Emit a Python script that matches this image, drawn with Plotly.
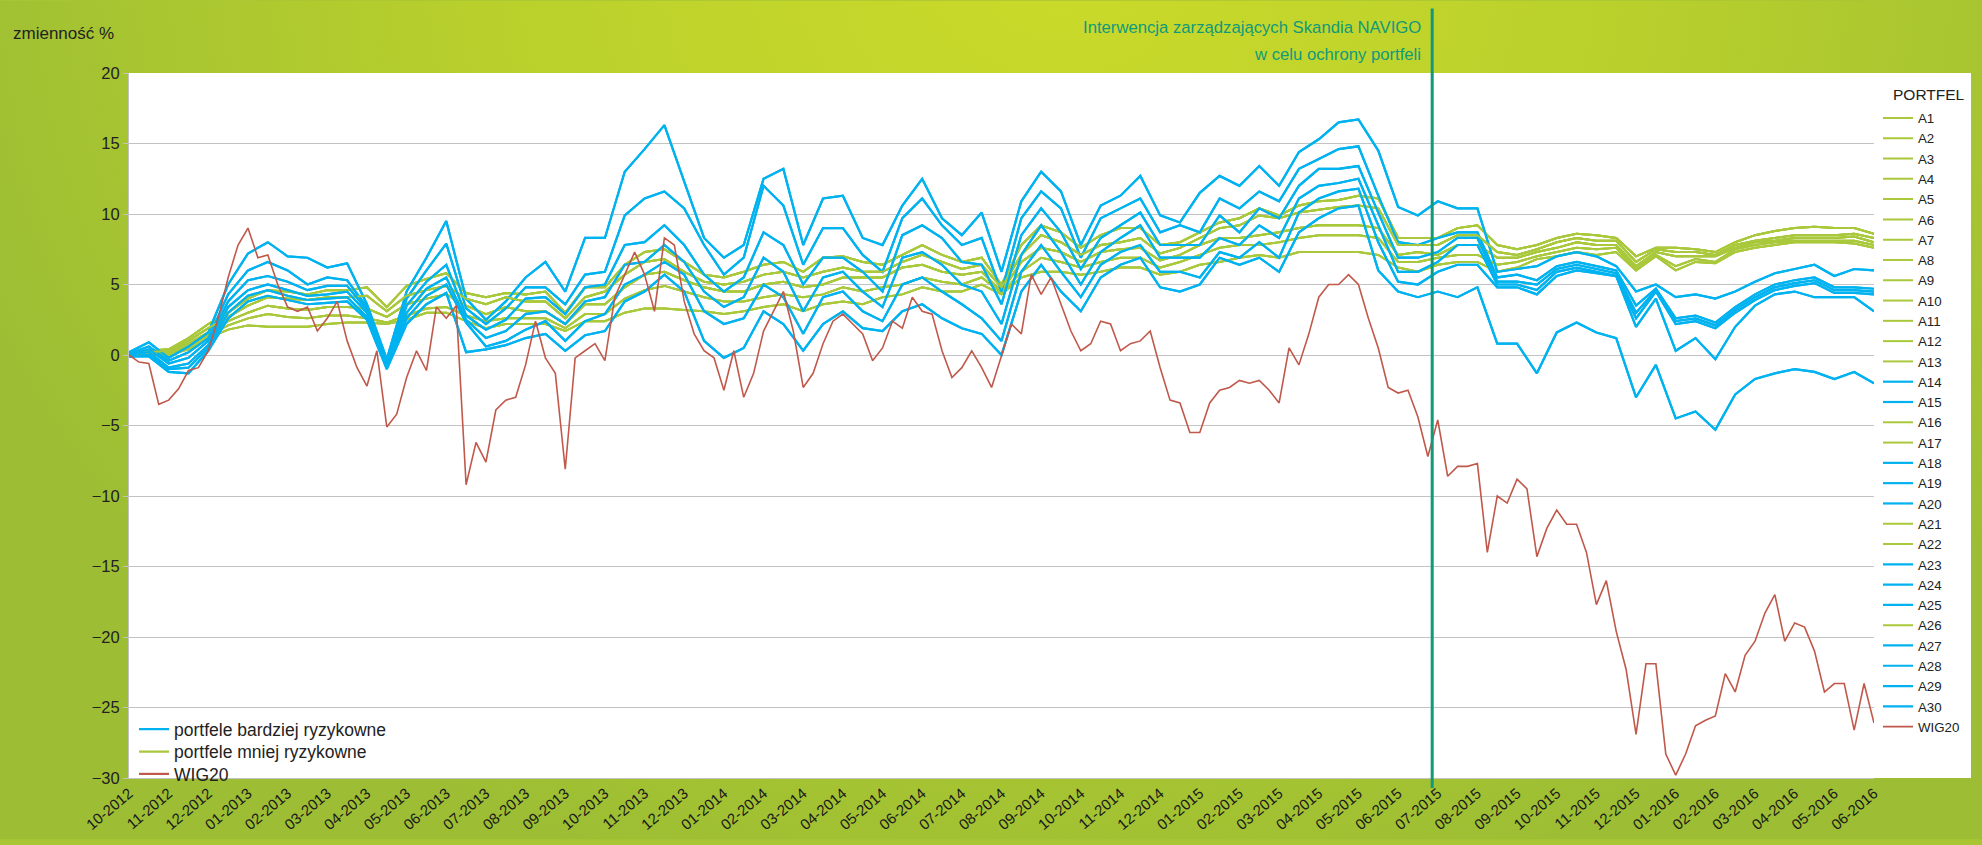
import base64
import numpy as np
import plotly.graph_objects as go

# ---------------- data ----------------
MONTH_LABELS = [
    "10-2012", "11-2012", "12-2012",
    "01-2013", "02-2013", "03-2013", "04-2013", "05-2013", "06-2013",
    "07-2013", "08-2013", "09-2013", "10-2013", "11-2013", "12-2013",
    "01-2014", "02-2014", "03-2014", "04-2014", "05-2014", "06-2014",
    "07-2014", "08-2014", "09-2014", "10-2014", "11-2014", "12-2014",
    "01-2015", "02-2015", "03-2015", "04-2015", "05-2015", "06-2015",
    "07-2015", "08-2015", "09-2015", "10-2015", "11-2015", "12-2015",
    "01-2016", "02-2016", "03-2016", "04-2016", "05-2016", "06-2016",
]

# sampling grids, in months since the start of 10-2012
X_HALF = np.arange(89) * 0.5      # portfolios: two samples per month
X_QUARTER = np.arange(177) * 0.25  # WIG20: four samples per month

# more risky portfolios (blue) - lines
BLUE_1 = [0.2, 0.9, -0.2, 0.6, 1.6, 5.0, 7.2, 8.0, 7.0, 6.9,
          6.2, 6.5, 3.6, -0.3, 4.5, 6.9, 9.5, 4.0, 2.5, 3.8,
          5.5, 6.6, 4.5, 8.3, 8.3, 13.0, 14.6, 16.3, 12.3, 8.3,
          6.9, 7.8, 12.5, 13.2, 7.8, 11.1, 11.3, 8.3, 7.8, 10.6,
          12.5, 9.7, 8.5, 10.1, 5.9, 10.9, 13.0, 11.6, 7.8, 10.6,
          11.3, 12.7, 9.9, 9.4, 11.5, 12.7, 12.0, 13.4, 12.0, 14.4,
          15.3, 16.5, 16.7, 14.5, 10.5, 9.9, 10.9, 10.4, 10.4, 5.9,
          6.1, 6.3, 7.0, 7.3, 7.0, 6.3, 4.5, 5.0, 4.1, 4.3,
          4.0, 4.5, 5.2, 5.8, 6.1, 6.4, 5.6, 6.1, 6.0]
BLUE_2 = [0.1, 0.6, -0.4, 0.2, 1.2, 4.3, 6.0, 6.6, 6.0, 5.0,
          5.5, 5.3, 3.4, -0.5, 4.0, 6.0, 7.9, 3.3, 2.2, 3.3,
          4.8, 4.8, 3.6, 5.7, 5.9, 9.9, 11.1, 11.6, 10.4, 7.8,
          5.7, 6.9, 12.0, 10.6, 6.4, 9.0, 9.0, 7.1, 5.9, 9.7,
          11.1, 9.2, 7.8, 8.3, 4.5, 9.7, 11.6, 10.4, 6.9, 9.7,
          10.4, 11.1, 8.7, 9.2, 8.7, 11.1, 10.4, 11.6, 10.9, 13.2,
          13.9, 14.6, 14.8, 11.3, 8.0, 7.8, 8.3, 8.7, 8.7, 5.5,
          5.7, 5.3, 6.3, 6.6, 6.3, 6.0, 3.5, 4.7, 2.6, 2.8,
          2.3, 3.4, 4.3, 5.0, 5.3, 5.5, 4.8, 4.8, 4.7]
BLUE_3 = [0.0, 0.4, -0.6, -0.2, 1.0, 3.8, 5.3, 5.6, 5.2, 4.6,
          4.9, 4.9, 3.2, -0.7, 3.5, 5.2, 6.4, 2.8, 1.8, 2.5,
          4.0, 4.1, 2.9, 4.8, 5.0, 7.8, 8.0, 9.2, 7.8, 5.7,
          4.5, 5.5, 8.7, 7.8, 5.0, 6.9, 6.9, 5.9, 4.5, 8.5,
          9.2, 8.3, 6.6, 6.4, 3.6, 8.5, 10.4, 8.7, 6.1, 8.3,
          9.2, 10.1, 7.8, 7.8, 7.8, 9.9, 8.7, 10.4, 9.7, 12.0,
          13.2, 13.2, 13.4, 10.1, 6.9, 6.9, 7.3, 8.3, 8.3, 5.2,
          5.2, 5.0, 6.1, 6.4, 6.1, 5.8, 3.0, 4.6, 2.4, 2.6,
          2.1, 3.2, 4.1, 4.8, 5.1, 5.3, 4.6, 4.6, 4.5]
BLUE_4 = [0.0, 0.2, -0.9, -0.6, 0.7, 3.4, 4.6, 5.0, 4.6, 4.2,
          4.3, 4.5, 3.0, -0.8, 3.0, 4.7, 5.5, 2.5, 1.2, 1.7,
          2.9, 3.1, 2.2, 3.8, 4.1, 6.4, 6.6, 7.8, 6.6, 4.5,
          3.4, 4.1, 6.9, 5.9, 3.1, 5.5, 5.9, 4.5, 3.4, 6.9,
          7.3, 6.4, 5.0, 4.5, 2.2, 7.1, 9.2, 7.3, 5.0, 7.3,
          8.3, 9.2, 6.9, 6.9, 6.9, 8.3, 7.8, 9.2, 8.3, 11.1,
          12.0, 12.2, 12.5, 9.2, 5.9, 5.9, 6.6, 7.8, 7.8, 5.0,
          5.0, 4.6, 5.9, 6.2, 5.9, 5.6, 2.6, 4.5, 2.2, 2.4,
          1.9, 3.0, 3.9, 4.6, 4.9, 5.1, 4.4, 4.4, 4.3]
BLUE_5 = [-0.1, 0.0, -1.0, -0.9, 0.5, 3.0, 4.2, 4.6, 4.2, 3.9,
          4.0, 4.1, 2.7, -0.9, 2.6, 4.2, 5.0, 2.3, 0.6, 1.0,
          1.8, 2.4, 1.0, 2.4, 2.9, 5.0, 5.7, 6.6, 5.7, 3.1,
          2.2, 2.6, 5.0, 4.1, 1.5, 4.1, 4.5, 3.1, 2.4, 5.0,
          5.5, 4.5, 3.6, 2.6, 1.0, 5.9, 7.8, 5.9, 4.1, 6.4,
          7.3, 7.8, 5.9, 5.9, 5.5, 7.3, 6.9, 8.0, 6.9, 10.1,
          11.1, 11.6, 11.8, 8.0, 5.2, 5.0, 5.9, 6.4, 6.4, 4.8,
          4.8, 4.3, 5.6, 6.0, 5.8, 5.6, 2.0, 4.0, 0.3, 1.2,
          -0.3, 2.0, 3.5, 4.3, 4.5, 4.1, 4.1, 4.1, 3.1]
BLUE_6 = [-0.1, -0.1, -1.2, -1.3, 0.3, 2.6, 3.8, 4.2, 3.9, 3.6,
          3.7, 3.8, 2.5, -1.0, 2.2, 3.6, 4.4, 0.2, 0.4, 0.7,
          1.2, 1.5, 0.3, 1.4, 1.7, 3.8, 4.5, 5.7, 4.5, 1.0,
          -0.2, 0.5, 3.1, 2.2, 0.3, 2.2, 3.1, 1.9, 1.7, 3.1,
          3.6, 2.6, 1.9, 1.5, 0.0, 4.5, 6.4, 4.5, 3.1, 5.5,
          6.4, 6.9, 4.8, 4.5, 5.0, 6.9, 6.4, 6.9, 5.9, 8.7,
          9.7, 10.4, 10.6, 6.0, 4.5, 4.1, 4.5, 4.1, 4.8, 0.8,
          0.8, -1.3, 1.6, 2.3, 1.6, 1.2, -3.0, -0.7, -4.5, -4.0,
          -5.3, -2.8, -1.7, -1.3, -1.0, -1.2, -1.7, -1.2, -2.0]

# less risky portfolios (green)
GREEN_1 = [0.1, 0.3, 0.4, 1.2, 2.2, 3.0, 4.0, 4.6, 4.5, 4.3,
           4.6, 4.6, 4.8, 3.4, 4.9, 5.4, 5.8, 4.4, 4.1, 4.4,
           4.3, 4.5, 3.0, 4.8, 4.8, 6.4, 7.3, 7.5, 6.6, 5.7,
           5.5, 5.9, 6.4, 6.6, 5.9, 6.9, 7.0, 6.6, 6.4, 7.1,
           7.8, 7.1, 6.6, 6.9, 5.0, 7.8, 9.2, 8.7, 7.6, 8.5,
           9.0, 9.0, 7.8, 8.0, 8.7, 9.4, 9.7, 10.4, 9.9, 10.6,
           10.9, 11.0, 11.3, 11.1, 8.3, 8.3, 8.3, 9.0, 9.2, 7.8,
           7.5, 7.8, 8.3, 8.6, 8.5, 8.3, 7.0, 7.6, 7.6, 7.5,
           7.3, 8.0, 8.5, 8.8, 9.0, 9.1, 9.0, 9.0, 8.6]
GREEN_2 = [0.0, 0.2, 0.3, 1.0, 1.9, 2.7, 3.5, 4.1, 4.0, 3.9,
           4.1, 4.1, 4.2, 3.1, 4.2, 4.6, 4.9, 4.0, 3.6, 4.1,
           3.8, 3.8, 2.6, 4.1, 4.5, 5.7, 6.6, 6.8, 5.9, 5.2,
           5.0, 5.2, 5.7, 5.9, 5.5, 5.9, 6.2, 5.9, 5.9, 6.6,
           7.1, 6.6, 6.1, 6.4, 4.8, 7.1, 8.5, 8.0, 7.1, 7.8,
           8.0, 8.3, 7.2, 7.6, 8.3, 9.0, 9.2, 9.9, 9.7, 10.1,
           10.3, 10.5, 10.6, 10.4, 7.8, 7.8, 7.8, 8.5, 8.5, 7.3,
           7.1, 7.5, 8.0, 8.3, 8.1, 8.1, 6.6, 7.5, 7.3, 7.3,
           7.1, 7.8, 8.1, 8.3, 8.5, 8.5, 8.5, 8.6, 8.3]
GREEN_3 = [0.0, 0.1, 0.2, 0.8, 1.6, 2.4, 3.0, 3.5, 3.3, 3.2,
           3.4, 3.4, 3.3, 2.7, 3.6, 4.0, 4.3, 3.5, 2.9, 3.4,
           3.1, 3.1, 2.2, 3.6, 3.6, 4.8, 5.7, 5.9, 5.3, 4.8,
           4.5, 4.5, 5.0, 5.2, 4.8, 5.0, 5.5, 5.5, 5.5, 6.2,
           6.4, 5.9, 5.7, 5.9, 4.5, 6.6, 7.6, 7.3, 6.6, 7.3,
           7.5, 7.6, 6.7, 7.1, 7.8, 8.3, 8.3, 8.5, 8.7, 9.0,
           9.2, 9.2, 9.2, 9.0, 7.1, 7.3, 7.1, 7.8, 7.8, 6.9,
           6.9, 7.3, 7.6, 8.0, 7.8, 7.8, 6.3, 7.3, 7.0, 7.0,
           7.0, 7.6, 8.0, 8.1, 8.3, 8.3, 8.3, 8.4, 8.0]
GREEN_4 = [-0.1, 0.1, 0.1, 0.6, 1.4, 2.1, 2.6, 2.9, 2.7, 2.6,
           2.8, 2.8, 2.6, 2.3, 2.8, 3.3, 3.4, 2.8, 2.4, 2.6,
           2.6, 2.6, 1.9, 2.9, 2.9, 4.0, 4.6, 4.9, 4.5, 4.1,
           3.8, 3.8, 4.1, 4.3, 4.1, 4.3, 4.8, 4.5, 4.8, 5.0,
           5.5, 5.2, 5.0, 5.5, 4.4, 5.9, 6.9, 6.6, 6.2, 6.6,
           6.9, 6.9, 6.2, 6.6, 7.1, 7.6, 7.8, 7.8, 8.0, 8.3,
           8.5, 8.5, 8.5, 8.3, 6.6, 6.6, 6.9, 7.1, 7.1, 6.4,
           6.6, 7.0, 7.3, 7.6, 7.5, 7.6, 6.1, 7.1, 6.3, 6.8,
           6.6, 7.5, 7.8, 8.0, 8.1, 8.1, 8.1, 8.1, 7.8]
GREEN_5 = [-0.1, 0.0, 0.0, 0.4, 1.2, 1.8, 2.1, 2.0, 2.0, 2.0,
           2.2, 2.3, 2.3, 2.2, 2.5, 3.0, 3.0, 2.4, 1.9, 2.2,
           2.2, 2.2, 1.7, 2.4, 2.4, 3.0, 3.3, 3.3, 3.2, 3.1,
           2.9, 3.1, 3.4, 3.6, 3.1, 3.6, 3.8, 3.6, 4.1, 4.3,
           4.8, 4.5, 4.5, 5.0, 4.3, 5.5, 5.9, 5.9, 5.7, 5.9,
           6.2, 6.2, 5.7, 5.9, 6.4, 6.6, 6.9, 7.1, 6.9, 7.3,
           7.3, 7.3, 7.3, 7.1, 6.2, 5.9, 6.4, 6.6, 6.6, 5.9,
           6.2, 6.8, 7.0, 7.3, 7.1, 7.3, 6.0, 7.0, 6.0, 6.6,
           6.5, 7.3, 7.6, 7.8, 8.0, 8.0, 8.0, 7.9, 7.6]

WIG20 = [0.0, -0.5, -0.6, -3.5, -3.2, -2.4, -1.1, -0.9,
         0.3, 2.6, 5.5, 7.8, 9.0, 6.9, 7.1, 5.0,
         3.4, 3.1, 3.4, 1.7, 2.6, 3.8, 1.0, -0.9,
         -2.2, 0.3, -5.1, -4.2, -1.6, 0.3, -1.1, 3.4,
         2.6, 3.5, -9.2, -6.2, -7.6, -3.9, -3.2, -3.0,
         -0.7, 2.4, -0.2, -1.3, -8.1, -0.2, 0.3, 0.8,
         -0.4, 4.1, 5.7, 7.3, 5.7, 3.1, 8.3, 7.8,
         3.8, 1.5, 0.3, -0.2, -2.5, 0.3, -3.0, -1.3,
         1.7, 3.1, 4.5, 1.7, -2.3, -1.3, 0.8, 2.4,
         2.9, 2.2, 1.5, -0.4, 0.5, 2.4, 1.9, 4.1,
         3.1, 2.9, 0.3, -1.6, -0.9, 0.3, -0.9, -2.3,
         0.0, 2.2, 1.5, 5.7, 4.3, 5.5, 3.6, 1.7,
         0.3, 0.8, 2.4, 2.2, 0.3, 0.8, 1.0, 1.7,
         -0.9, -3.2, -3.4, -5.5, -5.5, -3.4, -2.5, -2.3,
         -1.8, -2.0, -1.8, -2.5, -3.4, 0.5, -0.7, 1.5,
         4.1, 5.0, 5.0, 5.7, 5.0, 2.6, 0.5, -2.3,
         -2.7, -2.5, -4.4, -7.2, -4.6, -8.6, -7.9, -7.9,
         -7.7, -14.0, -10.0, -10.5, -8.8, -9.5, -14.3, -12.3,
         -11.0, -12.0, -12.0, -14.0, -17.7, -16.0, -19.6, -22.3,
         -26.9, -21.9, -21.9, -28.3, -29.8, -28.3, -26.3, -25.9,
         -25.6, -22.6, -23.9, -21.3, -20.3, -18.3, -17.0, -20.3,
         -19.0, -19.3, -21.0, -23.9, -23.3, -23.3, -26.6, -23.3,
         -26.1]

BLUE_LINES = {"B1": BLUE_1, "B2": BLUE_2, "B3": BLUE_3,
              "B4": BLUE_4, "B5": BLUE_5, "B6": BLUE_6}
GREEN_LINES = {"G1": GREEN_1, "G2": GREEN_2, "G3": GREEN_3,
               "G4": GREEN_4, "G5": GREEN_5}

# which read line each portfolio follows (many portfolios overlap in the picture)
PORTFOLIO_LINE = {
    "A1": "G1", "A2": "G2", "A3": "G3", "A4": "G4", "A5": "G5",
    "A6": "G1", "A7": "G2", "A8": "G3", "A9": "G4", "A10": "G5",
    "A11": "G1", "A12": "G2", "A13": "G3", "A14": "B1", "A15": "B2",
    "A16": "G4", "A17": "G5", "A18": "B3", "A19": "B4", "A20": "B5",
    "A21": "G1", "A22": "G3", "A23": "B6", "A24": "B1", "A25": "B2",
    "A26": "G2", "A27": "B3", "A28": "B4", "A29": "B5", "A30": "B6",
}

SUMMARY_NAMES = ["portfele bardziej ryzykowne", "portfele mniej ryzykowne", "WIG20"]

INTERVENTION_MONTH = 32.86   # late June 2015

# ---------------- style ----------------
BLUE = "#00b2ef"
GREEN = "#a9c83b"
RED = "#c0594b"
TEAL = "#109a7a"
GRID = "#c3c3c3"
TEXT = "#222222"
FONT = "Liberation Sans, Arial, sans-serif"

W, H = 1982, 845
ML, MR, MT, MB = 129, 108, 73, 62
PW = W - ML - MR
PH = H - MT - MB

fig = go.Figure()

for name, line_id in PORTFOLIO_LINE.items():
    is_blue = line_id.startswith("B")
    ys = BLUE_LINES[line_id] if is_blue else GREEN_LINES[line_id]
    fig.add_trace(go.Scatter(
        x=X_HALF, y=ys, mode="lines", name=name,
        line=dict(color=BLUE if is_blue else GREEN, width=2.2 if is_blue else 2.0),
        legend="legend",
    ))

fig.add_trace(go.Scatter(
    x=X_QUARTER, y=WIG20, mode="lines", name="WIG20",
    line=dict(color=RED, width=1.6), legend="legend",
))

# summary legend at bottom-left: one small legend per entry for tight spacing
summary_colors = [BLUE, GREEN, RED]
summary_centers = [734, 756.5, 779]
for k, (nm, col) in enumerate(zip(SUMMARY_NAMES, summary_colors)):
    fig.add_trace(go.Scatter(x=[None], y=[None], mode="lines", name=nm,
                             line=dict(color=col, width=2.2), legend=f"legend{k + 2}"))

legend_extra = {}
for k, yc in enumerate(summary_centers):
    legend_extra[f"legend{k + 2}"] = dict(
        x=(134 - ML) / PW, xanchor="left",
        y=(H - MB - yc) / PH, yanchor="middle",
        font=dict(size=17.5, color=TEXT, family=FONT),
        bgcolor="rgba(0,0,0,0)", itemwidth=30,
    )

grad_svg = (
    f"<svg xmlns='http://www.w3.org/2000/svg' width='{W}' height='{H}' viewBox='0 0 {W} {H}' preserveAspectRatio='none'>"
    "<defs><radialGradient id='g' gradientUnits='userSpaceOnUse' cx='1060' cy='-40' r='1150' "
    "gradientTransform='translate(1060 -40) scale(1 0.85) translate(-1060 40)'>"
    "<stop offset='0' stop-color='#cbda2a'/><stop offset='0.5' stop-color='#b9d02c'/>"
    "<stop offset='1' stop-color='#9dbe34'/></radialGradient></defs>"
    f"<rect width='{W}' height='{H}' fill='url(#g)'/></svg>"
)
grad_uri = "data:image/svg+xml;base64," + base64.b64encode(grad_svg.encode()).decode()

ANN_FONT = "Liberation Sans Narrow, Arial Narrow, Liberation Sans, sans-serif"

fig.update_layout(
    width=W, height=H,
    margin=dict(l=ML, r=MR, t=MT, b=MB, pad=0),
    paper_bgcolor="#a8c634",
    plot_bgcolor="rgba(0,0,0,0)",
    font=dict(family=FONT, color=TEXT, size=14),
    showlegend=True,
    xaxis=dict(
        range=[0, 44], tickmode="array", tickvals=list(range(len(MONTH_LABELS))),
        ticktext=MONTH_LABELS, tickangle=-40, showgrid=False, zeroline=False,
        showline=True, linecolor=GRID, linewidth=1, ticks="",
        tickfont=dict(size=15, color="#1a1a1a", family=FONT),
    ),
    yaxis=dict(
        range=[-30, 20], tickmode="array", tickvals=list(range(-30, 21, 5)),
        showgrid=True, gridcolor=GRID, gridwidth=1, zeroline=False,
        showline=True, linecolor=GRID, linewidth=1,
        ticks="outside", ticklen=5, tickcolor=GRID,
        tickfont=dict(size=16.5, color=TEXT, family=FONT),
    ),
    legend=dict(
        x=(1878 - ML) / PW, xanchor="left",
        y=1 - (103 - MT) / PH, yanchor="top",
        font=dict(size=13.3, color=TEXT, family=FONT),
        bgcolor="rgba(0,0,0,0)", itemwidth=30, tracegroupgap=0,
    ),
    images=[dict(
        source=grad_uri, xref="paper", yref="paper",
        x=-ML / PW, y=1 + MT / PH, sizex=W / PW, sizey=H / PH,
        xanchor="left", yanchor="top", sizing="stretch", layer="below",
    )],
    shapes=[
        dict(type="rect", xref="paper", yref="paper", x0=0, x1=(1971 - ML) / PW,
             y0=0, y1=1, fillcolor="white", line=dict(width=0), layer="below"),
        dict(type="line", xref="paper", yref="paper",
             x0=INTERVENTION_MONTH / 44, x1=INTERVENTION_MONTH / 44,
             y0=-10 / PH, y1=1 + (MT - 8) / PH,
             line=dict(color=TEAL, width=3), layer="above"),
    ],
    annotations=[
        dict(text="zmienność %", xref="paper", yref="paper",
             x=-(ML - 11) / PW, y=1 + (MT - 33) / PH, xanchor="left", yanchor="middle",
             showarrow=False, font=dict(size=17, color=TEXT, family=FONT)),
        dict(text="PORTFEL", xref="paper", yref="paper",
             x=(1891 - ML) / PW, y=1 - (95 - MT) / PH, xanchor="left", yanchor="middle",
             showarrow=False, font=dict(size=15.5, color=TEXT, family=FONT)),
        dict(text="Interwencja zarządzających Skandia NAVIGO", xref="paper", yref="paper",
             x=(1423 - ML) / PW, y=1 + (MT - 27) / PH, xanchor="right", yanchor="middle",
             showarrow=False, font=dict(size=16.7, color=TEAL, family=ANN_FONT)),
        dict(text="w celu ochrony portfeli", xref="paper", yref="paper",
             x=(1423 - ML) / PW, y=1 + (MT - 54) / PH, xanchor="right", yanchor="middle",
             showarrow=False, font=dict(size=16.7, color=TEAL, family=ANN_FONT)),
    ],
    **legend_extra,
)

fig.write_html("out.html",
               config={"displayModeBar": False},
               post_script="document.body.style.margin='0';document.body.style.overflow='hidden';")
